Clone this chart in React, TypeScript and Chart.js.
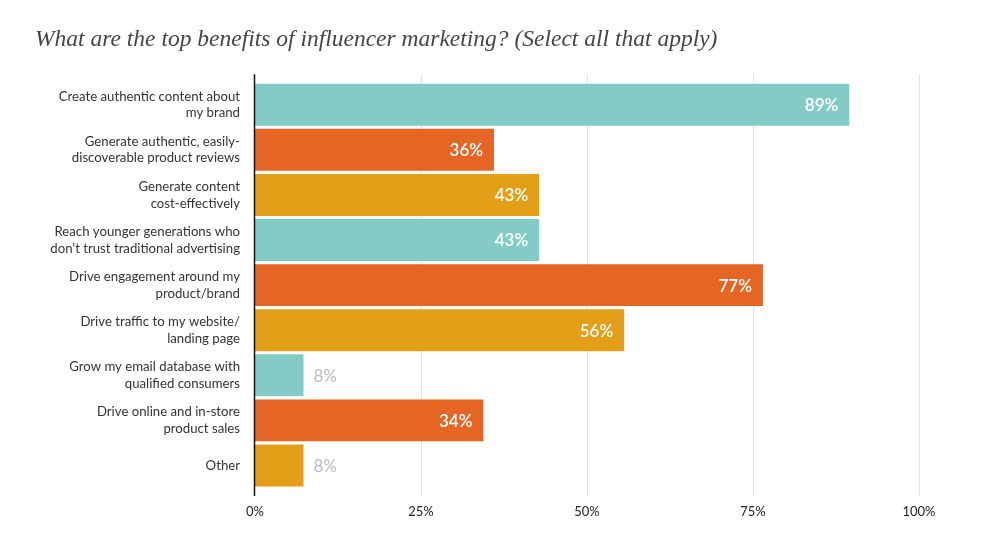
import React, { useEffect, useRef } from "react";
import { Chart, registerables } from "chart.js";

Chart.register(...registerables);

const TITLE = "What are the top benefits of influencer marketing? (Select all that apply)";

const categories: string[][] = [
  ["Create authentic content about", "my brand"],
  ["Generate authentic, easily-", "discoverable product reviews"],
  ["Generate content", "cost-effectively"],
  ["Reach younger generations who", "don\u2019t trust traditional advertising"],
  ["Drive engagement around my", "product/brand"],
  ["Drive traffic to my website/", "landing page"],
  ["Grow my email database with", "qualified consumers"],
  ["Drive online and in-store", "product sales"],
  ["Other"],
];

// bar lengths as drawn (percent)
const values: number[] = [89.5, 36, 42.8, 42.8, 76.5, 55.6, 7.3, 34.4, 7.3];
// printed value labels
const valueLabels: string[] = ["89%", "36%", "43%", "43%", "77%", "56%", "8%", "34%", "8%"];

const TEAL = "#82CCC5";
const ORANGE = "#E46524";
const GOLD = "#E39F17";
const barColors: string[] = [TEAL, ORANGE, GOLD, TEAL, ORANGE, GOLD, TEAL, ORANGE, GOLD];

const xTicks: number[] = [0, 25, 50, 75, 100];

const gridPlugin = {
  id: "customGrid",
  beforeDatasetsDraw(chart: any) {
    const { ctx, chartArea, scales } = chart;
    const x = scales.x;
    const top = chartArea.top - 8;
    const bottom = chartArea.bottom + 8;
    ctx.save();
    ctx.strokeStyle = "#e2e2e2";
    ctx.lineWidth = 1;
    xTicks.forEach((t) => {
      if (t === 0) return;
      const px = Math.round(x.getPixelForValue(t)) + 0.5;
      ctx.beginPath();
      ctx.moveTo(px, top);
      ctx.lineTo(px, bottom);
      ctx.stroke();
    });
    ctx.restore();
  },
  afterDatasetsDraw(chart: any) {
    const { ctx, chartArea, scales } = chart;
    const x = scales.x;
    ctx.save();
    ctx.strokeStyle = "#111";
    ctx.lineWidth = 1.5;
    const px = x.getPixelForValue(0) - 0.5;
    ctx.beginPath();
    ctx.moveTo(px, chartArea.top - 8);
    ctx.lineTo(px, chartArea.bottom + 8);
    ctx.stroke();

    const meta = chart.getDatasetMeta(0);
    ctx.textBaseline = "middle";
    meta.data.forEach((bar: any, i: number) => {
      const v = values[i];
      if (v < 15) {
        ctx.fillStyle = "#bdbdbd";
        ctx.font = "17px Lato";
        ctx.textAlign = "left";
        ctx.fillText(valueLabels[i], bar.x + 10, bar.y + 1);
      } else {
        ctx.fillStyle = "#ffffff";
        ctx.font = "600 17px Lato";
        ctx.textAlign = "right";
        ctx.fillText(valueLabels[i], bar.x - 11, bar.y + 1);
      }
    });
    ctx.restore();
  },
};

export default function App() {
  const ref = useRef<HTMLCanvasElement | null>(null);
  useEffect(() => {
    if (!ref.current) return;
    const chart = new Chart(ref.current, {
      type: "bar",
      data: {
        labels: categories,
        datasets: [
          {
            data: values,
            backgroundColor: barColors,
            borderWidth: 0,
            barPercentage: 0.93,
            categoryPercentage: 1,
          },
        ],
      },
      options: {
        indexAxis: "y",
        animation: false,
        responsive: false,
        layout: { padding: { left: 35, right: 81, top: 0, bottom: 0 } },
        plugins: {
          legend: { display: false },
          tooltip: { enabled: false },
          title: {
            display: true,
            text: TITLE,
            align: "start",
            color: "#454545",
            font: { family: "Liberation Serif", style: "italic", size: 23.5, weight: "normal", lineHeight: 1.2 },
            padding: { top: 26, bottom: 28 },
          },
        },
        scales: {
          x: {
            type: "linear",
            min: 0,
            max: 100,
            afterBuildTicks(scale: any) {
              scale.ticks = xTicks.map((v) => ({ value: v }));
            },
            afterFit(scale: any) {
              scale.height = 57;
            },
            grid: { display: false, drawTicks: false },
            border: { display: false },
            ticks: {
              padding: 16,
              color: "#222",
              font: { family: "Lato", size: 13 },
              callback: (v: any) => v + "%",
            },
          },
          y: {
            type: "category",
            afterFit(scale: any) {
              scale.width = 220;
            },
            grid: { display: false, drawTicks: false },
            border: { display: false },
            ticks: {
              padding: 15,
              color: "#333",
              font: { family: "Lato", size: 13.2, lineHeight: 1.27 },
            },
          },
        },
      },
      plugins: [gridPlugin],
    });
    return () => chart.destroy();
  }, []);
  return (
    <div style={{ position: "absolute", left: 0, top: 0, width: 1000, height: 545, background: "#fff" }}>
      <canvas ref={ref} width={1000} height={545} style={{ display: "block" }} />
    </div>
  );
}
